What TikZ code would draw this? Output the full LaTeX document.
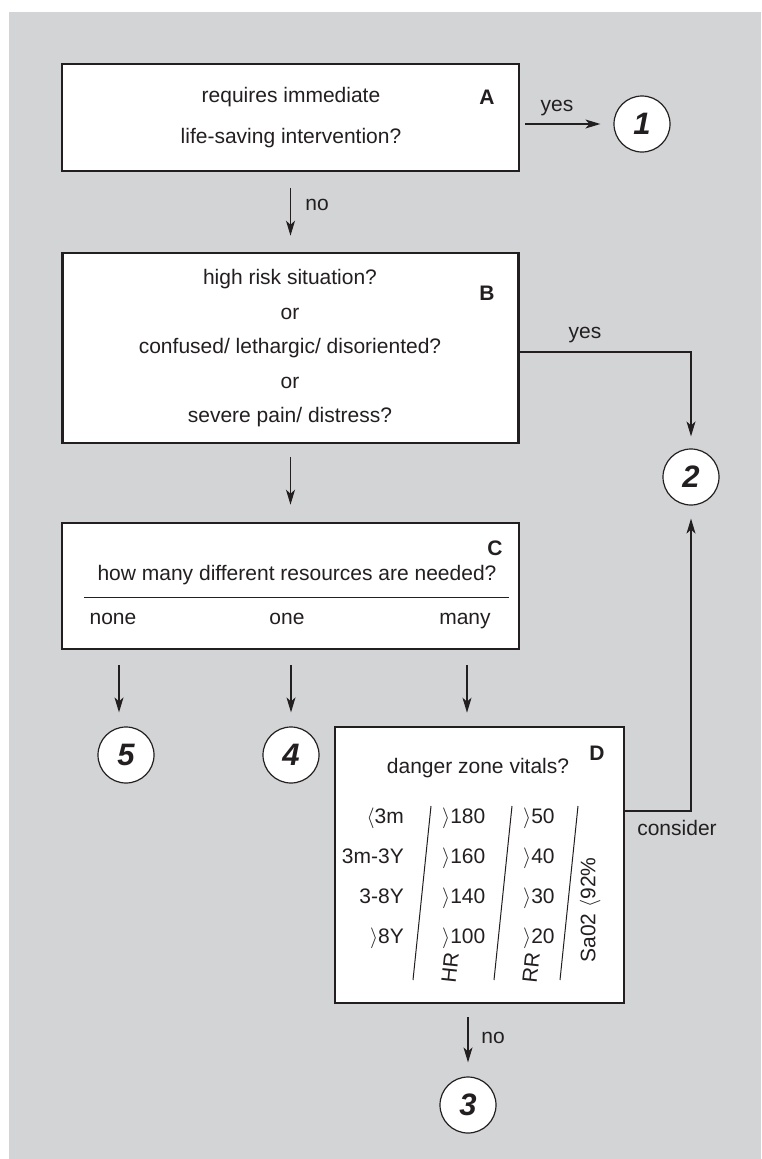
\documentclass[tikz,border=0pt]{standalone}
\usepackage{fontspec}
\setmainfont{Liberation Sans}
\usetikzlibrary{arrows.meta}
\definecolor{bggray}{RGB}{211,212,214}
\definecolor{ink}{RGB}{35,31,32}
\begin{document}
\begin{tikzpicture}[x=1pt,y=-1pt,
  boxst/.style={draw=ink, line width=2.6pt, fill=white, inner sep=0pt},
  txt/.style={text=ink, font=\fontsize{21}{25}\selectfont, inner sep=0pt, text height=15pt, text depth=4.4pt},
  lab/.style={text=ink, font=\fontsize{21}{25}\selectfont\bfseries, inner sep=0pt},
  endc/.style={circle, draw=ink, line width=1.2pt, fill=white, minimum size=56pt, inner sep=0pt, text=ink, font=\fontsize{31}{36}\selectfont\bfseries\itshape},
  arr/.style={draw=ink, line width=1.2pt, -{Stealth[length=15pt,width=9pt,inset=4pt]}},
  thinln/.style={draw=ink, line width=1pt}]
\useasboundingbox (0,0) rectangle (761,1159);
\fill[bggray] (9,12) rectangle (761,1159);

% boxes
\node[boxst, minimum width=457pt, minimum height=107pt] (A) at (290.5,117.5) {};
\node[boxst, minimum width=456pt, minimum height=190pt] (B) at (290.5,348) {};
\node[boxst, minimum width=457pt, minimum height=126pt] (C) at (290.5,586) {};
\node[boxst, minimum width=289pt, minimum height=276pt] (D) at (479.5,865) {};

% end circles
\node[endc] (c1) at (642,124) {1};
\node[endc] (c2) at (691,477) {2};
\node[endc] (c5) at (126,755) {5};
\node[endc] (c4) at (291,755) {4};
\node[endc] (c3) at (468,1105) {3};

% box A text
\node[txt] (a1) at (291,97) {requires immediate};
\node[txt] (a2) at (291,138) {life-saving intervention?};
\node[lab] (la) at (487,97) {A};

% box B text
\node[txt] (b1) at (290,279) {high risk situation?};
\node[txt] (b2) at (290,314) {or};
\node[txt] (b3) at (290,348) {confused/ lethargic/ disoriented?};
\node[txt] (b4) at (290,383) {or};
\node[txt] (b5) at (290,417) {severe pain/ distress?};
\node[lab] (lb) at (487,293) {B};

% box C text
\node[lab] (lc) at (495,548) {C};
\node[txt] (cq) at (297,575) {how many different resources are needed?};
\draw[thinln] (84,597) -- (509,597);
\node[txt] (cn) at (113,619) {none};
\node[txt] (co) at (287,619) {one};
\node[txt] (cm) at (465,619) {many};

% box D text
\node[lab] (ld) at (597,753) {D};
\node[txt] (dq) at (478,768) {danger zone vitals?};
\node[txt, anchor=east] (r11) at (404,818) {$\langle$3m};
\node[txt, anchor=east] (r12) at (404,858) {3m-3Y};
\node[txt, anchor=east] (r13) at (404,898) {3-8Y};
\node[txt, anchor=east] (r14) at (404,938) {$\rangle$8Y};
\node[txt, anchor=west] (r21) at (442,818) {$\rangle$180};
\node[txt, anchor=west] (r22) at (442,858) {$\rangle$160};
\node[txt, anchor=west] (r23) at (442,898) {$\rangle$140};
\node[txt, anchor=west] (r24) at (442,938) {$\rangle$100};
\node[txt, anchor=west] (r31) at (523,818) {$\rangle$50};
\node[txt, anchor=west] (r32) at (523,858) {$\rangle$40};
\node[txt, anchor=west] (r33) at (523,898) {$\rangle$30};
\node[txt, anchor=west] (r34) at (523,938) {$\rangle$20};
\draw[thinln] (431,806) -- (413,980);
\draw[thinln] (512,806) -- (494,980);
\draw[thinln] (578,806) -- (560,980);
\node[txt, rotate=84] (hr) at (452,968) {HR};
\node[txt, rotate=84] (rr) at (533,968) {RR};
\node[txt, rotate=90] (sa) at (590,910) {Sa02 $\langle$92\%};

% connectors
\draw[arr, shorten <=5pt, shorten >=13pt] (A.east |- c1) -- (c1);
\node[txt] (yes1) at (557,106) {yes};

\draw[arr, shorten <=16pt, shorten >=16pt] (A) -- (B);
\node[txt] (no1) at (317,205) {no};

\draw[arr, shorten <=13pt, shorten >=17pt] (B) -- (C);

\coordinate (yb) at (691,352);
\draw[arr, shorten >=12pt] (B.east |- yb) -- (yb) -- (c2);
\node[txt] (yes2) at (585,333) {yes};

\coordinate (cons) at (691,811);
\draw[arr, shorten >=13pt] (D.east |- cons) -- (cons) -- (c2);
\node[txt] (consl) at (677,830) {consider};

\coordinate (x5) at (119,0);
\draw[arr, shorten <=15pt, shorten >=14pt] (C.south -| x5) -- (c5.north -| x5);
\draw[arr, shorten <=15pt, shorten >=14pt] (C.south -| c4) -- (c4);
\coordinate (x6) at (467,0);
\draw[arr, shorten <=15pt, shorten >=13pt] (C.south -| x6) -- (D.north -| x6);

\draw[arr, shorten <=13pt, shorten >=14pt] (D.south -| c3) -- (c3);
\node[txt] (no2) at (493,1038) {no};
\end{tikzpicture}
\end{document}
